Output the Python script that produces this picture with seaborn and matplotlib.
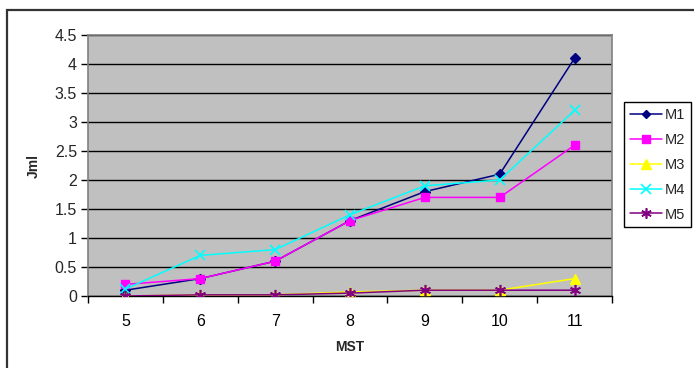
import matplotlib
matplotlib.use("Agg")
import matplotlib.pyplot as plt
from matplotlib.lines import Line2D
from matplotlib.patches import Rectangle
from matplotlib.ticker import FixedLocator, NullFormatter
import seaborn as sns
import pandas as pd

# Data
mst = ["5", "6", "7", "8", "9", "10", "11"]
m1 = [0.1, 0.3, 0.6, 1.3, 1.8, 2.1, 4.1]
m2 = [0.2, 0.3, 0.6, 1.3, 1.7, 1.7, 2.6]
m3 = [0.0, 0.02, 0.02, 0.07, 0.1, 0.1, 0.3]
m4 = [0.12, 0.7, 0.8, 1.4, 1.9, 2.0, 3.2]
m5 = [0.0, 0.02, 0.02, 0.05, 0.1, 0.1, 0.1]
series_names = ["M1", "M2", "M3", "M4", "M5"]
yticks = [0, 0.5, 1, 1.5, 2, 2.5, 3, 3.5, 4, 4.5]

sns.set_theme(style="white")
plt.rcParams["font.family"] = ["Liberation Sans", "DejaVu Sans"]

rows = []
for name, vals in zip(series_names, [m1, m2, m3, m4, m5]):
    for i, v in enumerate(vals):
        rows.append({"series": name, "pos": i, "value": v})
df = pd.DataFrame(rows)

styles = {
    "M1": dict(color="#000080", marker="D", ms=5, mew=1),
    "M2": dict(color="#FF00FF", marker="s", ms=6, mew=1),
    "M3": dict(color="#FFFF00", marker="^", ms=7, mew=1),
    "M4": dict(color="#00FFFF", marker="x", ms=7, mew=1.2),
    "M5": dict(color="#800080", marker=(6, 2, 0), ms=8, mew=1.2),
}

fig = plt.figure(figsize=(6.94, 3.68), dpi=100)
ax = fig.add_axes([88 / 694, 1 - 296 / 368, (612 - 88) / 694, (296 - 35) / 368])
ax.set_facecolor("#C0C0C0")

for name in series_names:
    st = styles[name]
    sub = df[df["series"] == name]
    sns.lineplot(data=sub, x="pos", y="value", ax=ax, color=st["color"],
                 marker=st["marker"], markersize=st["ms"],
                 markeredgewidth=st["mew"], markeredgecolor=st["color"],
                 markerfacecolor=st["color"], linewidth=1.1, legend=False,
                 zorder=3)

ax.set_xlim(-0.5, len(mst) - 0.5)
ax.set_ylim(0, 4.5)
ax.set_yticks(yticks)
ax.set_yticklabels([f"{t:g}" for t in yticks])
ax.yaxis.grid(True, color="black", linewidth=1)
ax.set_axisbelow(True)

ax.set_xticks(range(len(mst)))
ax.set_xticklabels(mst)
ax.xaxis.set_minor_locator(FixedLocator([i - 0.5 for i in range(len(mst) + 1)]))
ax.xaxis.set_minor_formatter(NullFormatter())
ax.tick_params(axis="x", which="major", length=0, pad=13, labelsize=11.5, colors="black")
ax.tick_params(axis="x", which="minor", length=5, width=1, color="black", bottom=True)
ax.tick_params(axis="y", which="major", length=5, width=1, color="black", left=True,
               pad=3, labelsize=11.5)

for side in ["top", "right", "left"]:
    ax.spines[side].set_color("#808080")
    ax.spines[side].set_linewidth(1.2)
ax.spines["bottom"].set_color("black")
ax.spines["bottom"].set_linewidth(1)

ax.set_xlabel("MST", fontsize=10, fontweight="bold", labelpad=8)
ax.set_ylabel("Jml", fontsize=10, fontweight="bold", labelpad=10)

handles = [Line2D([0], [0], color=styles[n]["color"], marker=styles[n]["marker"],
                  markersize=styles[n]["ms"] - 0.5, markeredgewidth=styles[n]["mew"],
                  markerfacecolor=styles[n]["color"], markeredgecolor=styles[n]["color"],
                  linewidth=1.1) for n in series_names]
leg = fig.legend(handles, series_names, loc="upper left",
                 bbox_to_anchor=(624 / 694, 1 - 102 / 368), fontsize=10.5,
                 frameon=True, fancybox=False, framealpha=1, edgecolor="black",
                 borderpad=0.4, labelspacing=0.75, handlelength=2.2,
                 handletextpad=0.2, borderaxespad=0)
leg.get_frame().set_linewidth(1)

# Outer chart frame
fig.patches.append(Rectangle((7 / 694, -0.05), 1.1, 1 - 10 / 368 + 0.05,
                             transform=fig.transFigure, fill=False,
                             edgecolor="#333333", linewidth=1.6, zorder=0))

fig.savefig("out.png", dpi=100)
